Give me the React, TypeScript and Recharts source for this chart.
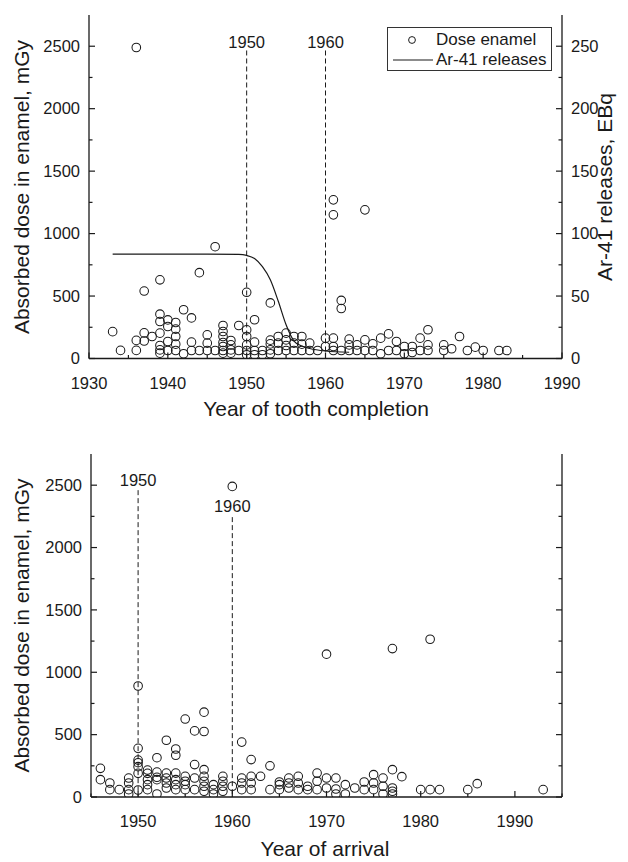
import React from 'react';
import { ComposedChart, Scatter, Line, XAxis, YAxis, ReferenceLine, ReferenceDot } from 'recharts';

const FONT = '"Liberation Sans", Arial, Helvetica, sans-serif';
const INK = '#1a1a1a';

// absorbed dose in enamel (mGy), grouped by year of tooth completion
const toothDose: [number, number[]][] = [
  [1933, [215]],
  [1934, [65]],
  [1936, [2490, 145, 65]],
  [1937, [540, 205, 140]],
  [1938, [176]],
  [1939, [630, 355, 296, 203, 104, 69, 43]],
  [1940, [309, 256, 136, 64]],
  [1941, [288, 235, 176, 115, 64]],
  [1942, [390, 38]],
  [1943, [325, 131, 64]],
  [1944, [687, 64]],
  [1945, [189, 123, 64]],
  [1946, [895, 64]],
  [1947, [264, 216, 176, 128, 96, 64, 43]],
  [1948, [144, 109, 69, 43]],
  [1949, [264, 64]],
  [1950, [530, 229, 176, 109, 64, 30]],
  [1951, [310, 131, 64, 30]],
  [1952, [64, 30]],
  [1953, [445, 147, 117, 69, 38]],
  [1954, [176, 123, 64]],
  [1955, [203, 149, 104, 64]],
  [1956, [176, 123, 64]],
  [1957, [176, 115, 64]],
  [1958, [123, 64]],
  [1959, [64]],
  [1960, [163, 96]],
  [1961, [1270, 1150, 163, 96, 64]],
  [1962, [465, 400, 64]],
  [1963, [155, 109, 64]],
  [1964, [109, 64]],
  [1965, [1190, 149, 64]],
  [1966, [117, 64]],
  [1967, [163, 38]],
  [1968, [197, 64]],
  [1969, [136, 64]],
  [1970, [96, 38]],
  [1971, [96, 48]],
  [1972, [163, 64]],
  [1973, [230, 109, 64]],
  [1975, [109, 64]],
  [1976, [78]],
  [1977, [176]],
  [1978, [64]],
  [1979, [91]],
  [1980, [64]],
  [1982, [64]],
  [1983, [64]],
];

// Ar-41 releases (EBq)
const releaseYears = [1933, 1940, 1945, 1949, 1950, 1951, 1952, 1953, 1954, 1955, 1956, 1957, 1958, 1960, 1963];
const releaseEBq = [83.5, 83.5, 83.5, 83.3, 82.5, 80, 73.5, 63, 46, 27, 14, 10, 8, 6, 5];

// absorbed dose in enamel (mGy), grouped by year of arrival
const arrivalDose: [number, number[]][] = [
  [1946, [230, 139]],
  [1947, [112, 59]],
  [1948, [59]],
  [1949, [152, 112, 59, 24]],
  [1950, [890, 390, 296, 275, 243, 190, 56]],
  [1951, [216, 190, 139, 99, 59]],
  [1952, [315, 200, 158, 139, 24]],
  [1953, [455, 192, 152, 112, 72]],
  [1954, [385, 335, 192, 139, 99, 59]],
  [1955, [625, 166, 126, 99, 59]],
  [1956, [530, 260, 152, 59]],
  [1957, [680, 525, 219, 166, 126, 86, 46]],
  [1958, [99, 59, 24]],
  [1959, [166, 126, 86, 46]],
  [1960, [2490, 86]],
  [1961, [440, 152, 112, 59]],
  [1962, [300, 166, 112, 59]],
  [1963, [166]],
  [1964, [250, 59]],
  [1965, [120, 99, 59]],
  [1966, [152, 112, 72]],
  [1967, [166, 112, 59]],
  [1968, [86, 59]],
  [1969, [192, 126, 59]],
  [1970, [1145, 152, 72]],
  [1971, [152, 64, 24]],
  [1972, [99, 24]],
  [1973, [72]],
  [1974, [120, 59]],
  [1975, [179, 112, 59]],
  [1976, [152, 86, 24]],
  [1977, [1190, 219, 72, 46, 24]],
  [1978, [163]],
  [1980, [59]],
  [1981, [1265, 59]],
  [1982, [59]],
  [1985, [59]],
  [1986, [107]],
  [1993, [59]],
];

const toothTicks = [1930, 1935, 1940, 1945, 1950, 1955, 1960, 1965, 1970, 1975, 1980, 1985, 1990];
const arrivalTicks = [1945, 1950, 1955, 1960, 1965, 1970, 1975, 1980, 1985, 1990, 1995];
const doseTicks = [0, 250, 500, 750, 1000, 1250, 1500, 1750, 2000, 2250, 2500];
const releaseTicks = [0, 25, 50, 75, 100, 125, 150, 175, 200, 225, 250];

const flatten = (groups: [number, number[]][]) =>
  groups.flatMap(([x, ys]) => ys.map((y) => ({ x, y })));

const toothPoints = flatten(toothDose);
const arrivalPoints = flatten(arrivalDose);
const releasePoints = releaseYears.map((x, i) => ({ x, y: releaseEBq[i] }));

type Side = 'bottom' | 'top' | 'left' | 'right';

// inward ticks, labels only on major steps
const tick = (side: Side, major: number, showLabel: boolean) => (props: any) => {
  const { x, y, payload } = props;
  const v = payload.value;
  const isMajor = v % major === 0;
  const len = isMajor ? 6 : 3.5;
  const ln = { stroke: INK, strokeWidth: 1.2 };
  const txt = { fontSize: 16.5, fill: INK, fontFamily: FONT };
  if (side === 'bottom') {
    return (
      <g>
        <line x1={x} y1={y} x2={x} y2={y - len} {...ln} />
        {showLabel && isMajor && <text x={x} y={y + 30} textAnchor="middle" {...txt}>{v}</text>}
      </g>
    );
  }
  if (side === 'top') {
    return <line x1={x} y1={y} x2={x} y2={y + len} {...ln} />;
  }
  if (side === 'left') {
    return (
      <g>
        <line x1={x} y1={y} x2={x + len} y2={y} {...ln} />
        {showLabel && isMajor && <text x={x - 9} y={y + 5.8} textAnchor="end" {...txt}>{v}</text>}
      </g>
    );
  }
  return (
    <g>
      <line x1={x} y1={y} x2={x - len} y2={y} {...ln} />
      {showLabel && isMajor && <text x={x + 9} y={y + 5.8} textAnchor="start" {...txt}>{v}</text>}
    </g>
  );
};

const circle = (props: any) => (
  <circle cx={props.cx} cy={props.cy} r={4.3} fill="none" stroke={INK} strokeWidth={1.05} />
);

const hTitle = (text: string, cx: number, dy: number) => (p: any) => (
  <text x={cx} y={p.viewBox.y + dy} textAnchor="middle" fontSize={21} fill={INK} fontFamily={FONT}>
    {text}
  </text>
);

const vTitle = (text: string, bx: number, cy: number) => () => (
  <text transform={`translate(${bx},${cy}) rotate(-90)`} textAnchor="middle" fontSize={21} fill={INK} fontFamily={FONT}>
    {text}
  </text>
);

const axisLine = { stroke: INK, strokeWidth: 1.3 };
const dash = { stroke: INK, strokeWidth: 1, strokeDasharray: '5 3' };
const yearLabel = (v: string) => ({ value: v, position: 'center' as const, fontSize: 16.5, fill: INK, fontFamily: FONT });

function ToothChart() {
  return (
    <ComposedChart width={628} height={430} margin={{ top: 15, right: 0, bottom: 0, left: 0 }}>
      <XAxis xAxisId="b" type="number" dataKey="x" domain={[1930, 1990]} allowDataOverflow ticks={toothTicks}
        interval={0} height={71.5} tickSize={0} tickMargin={0} tick={tick('bottom', 10, true)} axisLine={axisLine}
        label={hTitle('Year of tooth completion', 316, 57.5)} />
      <XAxis xAxisId="t" orientation="top" type="number" dataKey="x" domain={[1930, 1990]} allowDataOverflow
        ticks={toothTicks} interval={0} height={0} tickSize={0} tickMargin={0} tick={tick('top', 10, false)}
        axisLine={axisLine} />
      <YAxis yAxisId="l" type="number" dataKey="y" domain={[0, 2750]} allowDataOverflow ticks={doseTicks}
        interval={0} width={89} tickSize={0} tickMargin={0} tick={tick('left', 500, true)} axisLine={axisLine}
        label={vTitle('Absorbed dose in enamel, mGy', 29, 187)} />
      <YAxis yAxisId="r" orientation="right" type="number" dataKey="y" domain={[0, 275]} allowDataOverflow
        ticks={releaseTicks} interval={0} width={66} tickSize={0} tickMargin={0} tick={tick('right', 50, true)}
        axisLine={axisLine} label={vTitle('Ar-41 releases, EBq', 612, 187)} />
      <ReferenceLine xAxisId="b" yAxisId="l" segment={[{ x: 1950, y: 2466 }, { x: 1950, y: 0 }]} {...dash} />
      <ReferenceLine xAxisId="b" yAxisId="l" segment={[{ x: 1960, y: 2466 }, { x: 1960, y: 0 }]} {...dash} />
      <ReferenceDot xAxisId="b" yAxisId="l" x={1950} y={2530} r={0} stroke="none" label={yearLabel('1950')} />
      <ReferenceDot xAxisId="b" yAxisId="l" x={1960} y={2530} r={0} stroke="none" label={yearLabel('1960')} />
      <Scatter xAxisId="b" yAxisId="l" data={toothPoints} shape={circle} isAnimationActive={false} />
      <Line xAxisId="b" yAxisId="r" data={releasePoints} dataKey="y" type="monotone" dot={false}
        stroke={INK} strokeWidth={1.2} isAnimationActive={false} />
    </ComposedChart>
  );
}

function ArrivalChart() {
  return (
    <ComposedChart width={628} height={422} margin={{ top: 14, right: 0, bottom: 0, left: 0 }}>
      <XAxis xAxisId="b" type="number" dataKey="x" domain={[1945, 1995]} allowDataOverflow ticks={arrivalTicks}
        interval={0} height={65} tickSize={0} tickMargin={0} tick={tick('bottom', 10, true)} axisLine={axisLine}
        label={hTitle('Year of arrival', 325, 59)} />
      <XAxis xAxisId="t" orientation="top" type="number" dataKey="x" domain={[1945, 1995]} allowDataOverflow
        ticks={arrivalTicks} interval={0} height={0} tickSize={0} tickMargin={0} tick={tick('top', 10, false)}
        axisLine={axisLine} />
      <YAxis yAxisId="l" type="number" dataKey="y" domain={[0, 2750]} allowDataOverflow ticks={doseTicks}
        interval={0} width={91} tickSize={0} tickMargin={0} tick={tick('left', 500, true)} axisLine={axisLine}
        label={vTitle('Absorbed dose in enamel, mGy', 29, 185.5)} />
      <YAxis yAxisId="r" orientation="right" type="number" dataKey="y" domain={[0, 2750]} allowDataOverflow
        ticks={doseTicks} interval={0} width={66} tickSize={0} tickMargin={0} tick={tick('right', 500, false)}
        axisLine={axisLine} />
      <ReferenceLine xAxisId="b" yAxisId="l" segment={[{ x: 1950, y: 2460 }, { x: 1950, y: 0 }]} {...dash} />
      <ReferenceLine xAxisId="b" yAxisId="l" segment={[{ x: 1960, y: 2244 }, { x: 1960, y: 0 }]} {...dash} />
      <ReferenceDot xAxisId="b" yAxisId="l" x={1950} y={2540} r={0} stroke="none" label={yearLabel('1950')} />
      <ReferenceDot xAxisId="b" yAxisId="l" x={1960} y={2334} r={0} stroke="none" label={yearLabel('1960')} />
      <Scatter xAxisId="b" yAxisId="l" data={arrivalPoints} shape={circle} isAnimationActive={false} />
    </ComposedChart>
  );
}

function LegendBox() {
  return (
    <div style={{
      position: 'absolute', left: 387, top: 27, width: 163, height: 42, border: '1px solid #333',
      fontFamily: FONT, fontSize: 17, color: INK, lineHeight: '21px', background: '#fff',
    }}>
      <div style={{ position: 'absolute', left: 0, top: 1, display: 'flex', alignItems: 'center' }}>
        <svg width={48} height={20}><circle cx={24} cy={10} r={3.4} fill="none" stroke={INK} strokeWidth={1} /></svg>
        <span>Dose enamel</span>
      </div>
      <div style={{ position: 'absolute', left: 0, top: 21, display: 'flex', alignItems: 'center' }}>
        <svg width={48} height={20}><line x1={5} y1={10} x2={45} y2={10} stroke={INK} strokeWidth={1.2} /></svg>
        <span>Ar-41 releases</span>
      </div>
    </div>
  );
}

export default function App() {
  return (
    <div style={{ position: 'absolute', left: 0, top: 0, width: 628, height: 862, background: '#fff', overflow: 'hidden' }}>
      <div style={{ position: 'absolute', left: 0, top: 0 }}>
        <ToothChart />
      </div>
      <LegendBox />
      <div style={{ position: 'absolute', left: 0, top: 440 }}>
        <ArrivalChart />
      </div>
    </div>
  );
}
